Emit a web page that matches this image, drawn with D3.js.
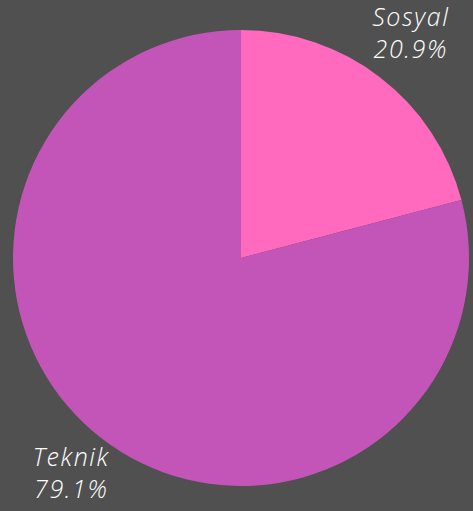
<!doctype html>
<html>
<head>
<style>
  body { margin: 0; background: #505050; }
  svg { display: block; }
  .lbl { font-family: "Open Sans", sans-serif; font-style: italic; font-weight: 300; font-size: 25px; letter-spacing: 1.6px; fill: #ffffff; }
</style>
<script src="https://d3js.org/d3.v7.min.js"></script>
</head>
<body>
<svg width="473" height="511"></svg>
<script>
  var CATEGORIES = ["Sosyal", "Teknik"];
  var VALUES = [20.9, 79.1];
  var COLORS = ["#ff69be", "#c355b8"];

  const width = 473, height = 511;
  const cx = 241, cy = 258, r = 228;

  const data = CATEGORIES.map((c, i) => ({ name: c, value: VALUES[i], color: COLORS[i] }));
  const pie = d3.pie().sort(null).value(d => d.value);
  const arc = d3.arc().innerRadius(0).outerRadius(r);
  const labelArc = d3.arc().innerRadius(r * 1.22).outerRadius(r * 1.22);

  const g = d3.select("svg").append("g").attr("transform", "translate(" + cx + "," + cy + ")");

  g.selectAll("path")
    .data(pie(data))
    .enter()
      .append("path")
        .attr("d", arc)
        .attr("fill", d => d.data.color);

  const lbl = g.selectAll("text")
    .data(pie(data))
    .enter()
      .append("text")
        .attr("class", "lbl")
        .attr("text-anchor", "middle")
        .attr("transform", d => "translate(" + labelArc.centroid(d) + ")");

  // two lines: name, then percentage
  lbl.append("tspan").attr("x", 0).attr("y", -12).text(d => d.data.name);
  lbl.append("tspan").attr("x", 0).attr("y", 20).text(d => d.data.value.toFixed(1) + "%");
</script>
</body>
</html>
